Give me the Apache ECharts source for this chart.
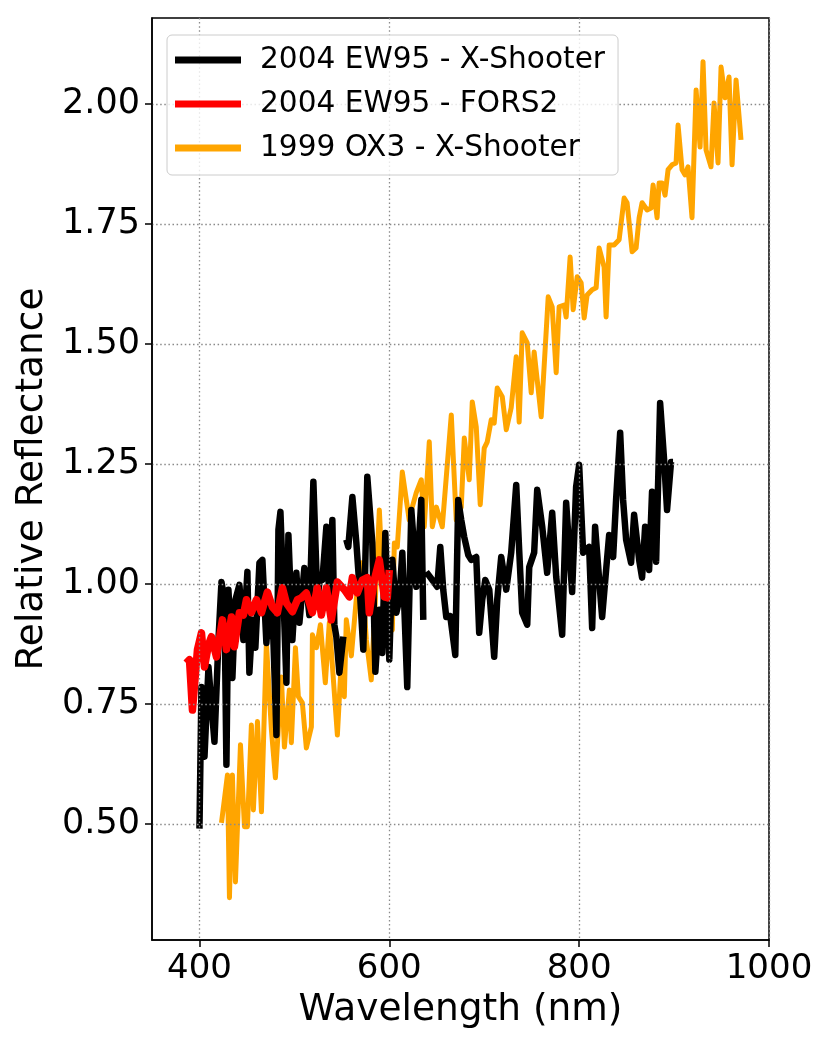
<!DOCTYPE html>
<html>
<head>
<meta charset="utf-8">
<script src="https://cdn.jsdelivr.net/npm/echarts@6/dist/echarts.min.js"></script>
<style>
html,body{margin:0;padding:0;background:#fff;}
#c{width:830px;height:1046px;}
</style>
</head>
<body>
<div id="c"></div>
<script>
// ---- data ----
var seriesNames = ['2004 EW95 - X-Shooter', '2004 EW95 - FORS2', '1999 OX3 - X-Shooter'];

var xsWave = [400.0,402.1,405.3,409.5,412.6,415.8,420.0,423.2,426.3,428.4,430.5,433.7,434.7,437.9,442.1,446.3,450.5,452.6,455.8,458.9,463.2,466.3,470.5,473.7,477.9,481.1,483.2,485.3,487.4,491.6,493.7,497.9,502.1,505.3,510.5,512.6,515.8,520.0,524.2,527.4,529.5,533.7,536.8,540.0,542.1,544.2,547.4,551.6,553.0,554.7,556.8,561.1,565.3,569.5,572.6,576.8,582.1,585.3,589.5,592.6,595.8,600.0,603.2,607.4,610.5,613.7,618.9,623.2,626.3,628.4,633.7,635.8,637.0,638.9,645.3,650.5,653.7,656.8,660.0,664.2,669.5,672.6,675.8,678.9,683.2,686.3,691.6,694.7,697.9,701.1,705.3,710.5,713.7,717.9,723.2,728.4,733.7,736.8,740.0,745.3,747.4,752.6,755.8,761.1,766.3,771.6,775.8,782.1,786.3,792.6,796.8,800.0,804.2,810.5,813.7,816.8,821.1,824.2,828.4,831.6,835.8,838.9,843.2,846.3,849.5,854.7,857.9,863.2,866.3,869.5,873.7,876.8,881.1,885.3,889.5,892.6,896.8,898.9];
var xsRefl = [0.49,0.785,0.64,0.827,0.748,0.671,0.883,1.004,0.967,0.623,0.988,0.863,0.804,0.967,0.998,0.883,1.025,0.815,0.925,0.867,1.044,1.05,0.877,0.967,0.883,0.685,1.113,1.15,1.035,0.794,1.102,0.883,1.023,0.919,1.033,1.029,0.935,1.213,0.967,1.019,1.008,1.119,0.967,1.133,0.915,0.89,0.815,0.89,null,1.092,1.077,1.181,1.085,0.967,0.863,1.223,1.085,0.817,0.946,0.856,1.106,0.842,1.05,0.94,0.967,1.065,0.785,1.154,1.071,0.994,1.175,0.925,null,1.025,1.008,0.994,1.077,0.988,0.931,0.933,0.852,1.175,1.133,1.098,1.06,1.05,1.056,0.898,0.967,1.008,0.988,0.848,0.967,1.056,0.988,1.065,1.206,1.071,0.94,0.915,1.035,1.065,1.196,1.119,1.023,1.148,1.015,0.894,1.169,0.983,1.202,1.248,1.065,1.077,0.908,1.119,1.008,0.931,1.029,1.102,1.056,1.175,1.315,1.175,1.092,1.044,1.144,1.05,1.013,1.119,1.029,1.192,1.046,1.377,1.258,1.154,1.254,1.254];

var forsWave = [386.0,389.5,392.6,397.9,402.1,405.3,409.5,412.6,417.9,424.2,428.4,433.7,436.8,442.1,446.3,449.5,454.7,460.0,465.3,471.6,476.8,482.1,487.4,491.6,497.9,503.2,507.4,512.6,518.9,524.2,528.4,533.7,538.9,545.3,552.6,557.9,561.1,566.3,571.6,576.8,578.9,584.2,589.5,594.7,597.9,600.0];
var forsRefl = [0.835,0.842,0.737,0.863,0.898,0.827,0.873,0.89,0.848,0.925,0.863,0.931,0.869,0.94,0.935,0.967,0.94,0.967,0.94,0.983,0.952,0.94,0.992,0.96,0.942,0.967,0.971,0.981,0.94,0.992,0.935,0.992,0.925,1.004,0.988,0.973,1.013,0.981,1.008,1.013,0.94,1.008,1.05,0.973,0.971,1.029];

var oxWave = [423.2,429.5,431.6,434.7,437.9,443.2,447.4,450.5,454.7,456.8,461.1,465.3,470.5,475.8,480.0,486.3,489.5,494.7,496.8,501.1,504.2,508.4,512.6,517.9,519.0,523.2,527.4,532.6,536.8,545.3,549.5,552.6,554.7,560.0,565.3,570.5,575.8,581.0,585.3,589.5,594.7,597.9,603.2,605.3,608.4,613.7,621.0,624.2,628.4,633.7,636.8,642.1,645.3,649.5,655.8,665.3,670.5,675.8,679.0,684.2,687.4,691.6,695.8,700.0,703.2,707.4,710.5,713.7,719.0,723.2,728.4,733.7,736.8,740.0,745.3,749.5,752.6,760.0,767.4,771.6,775.8,778.9,784.2,786.3,790.5,793.7,797.9,802.1,805.3,808.4,813.7,817.9,821.0,826.3,828.4,831.6,836.8,842.1,847.4,850.5,855.8,860.0,863.2,866.3,871.6,875.8,877.9,882.1,884.2,887.4,890.5,893.7,897.9,902.1,904.2,908.4,911.6,914.7,918.9,923.2,927.4,930.5,933.7,938.9,942.1,946.3,949.5,953.7,957.9,961.1,965.3,970.5];
var oxRefl = [0.502,0.602,0.346,0.602,0.379,0.665,0.494,0.494,0.706,0.529,0.713,0.525,0.877,0.696,0.596,0.806,0.66,0.779,0.669,0.867,0.765,0.752,0.658,0.702,0.894,0.867,0.915,0.794,0.919,0.685,0.842,0.765,0.925,0.85,0.97,1.044,0.883,0.80,0.967,1.154,0.931,0.925,0.904,1.085,1.077,1.233,1.133,1.16,1.19,1.217,1.119,1.296,1.119,1.16,1.119,1.352,1.133,1.16,1.304,1.217,1.379,1.327,1.165,1.283,1.296,1.342,1.335,1.408,1.39,1.321,1.367,1.473,1.337,1.523,1.502,1.398,1.483,1.348,1.598,1.577,1.44,1.577,1.581,1.556,1.681,1.571,1.64,1.627,1.554,1.602,1.613,1.617,1.70,1.66,1.556,1.706,1.706,1.717,1.804,1.794,1.692,1.70,1.763,1.794,1.779,1.783,1.831,1.763,1.835,1.835,1.81,1.863,1.873,1.877,1.956,1.863,1.852,1.869,1.763,2.029,1.91,2.088,1.904,1.869,2.002,1.877,2.077,2.013,2.056,1.873,2.05,1.925];

var xTicks = [400, 600, 800, 1000];
var yTicks = [0.50, 0.75, 1.00, 1.25, 1.50, 1.75, 2.00];

function pairs(w, r) {
  var out = [];
  for (var i = 0; i < w.length; i++) out.push([w[i], r[i] === null ? '-' : r[i]]);
  return out;
}

var FONT = 'DejaVu Sans';
var chart = echarts.init(document.getElementById('c'), null, {renderer: 'canvas'});
var gridLine = {show: true, lineStyle: {color: '#8a8a8a', width: 1.3, type: [1.5, 2.6]}};

chart.setOption({
  animation: false,
  backgroundColor: '#fff',
  grid: {left: 152, top: 18, right: 61, bottom: 106, show: true, borderColor: '#000', borderWidth: 1.5, backgroundColor: 'transparent'},
  legend: {
    orient: 'vertical', left: 167, top: 35, z: 10,
    padding: [10, 13, 12, 8],
    icon: 'rect',
    itemWidth: 66, itemHeight: 7, itemGap: 14,
    backgroundColor: 'rgba(255,255,255,0.8)',
    borderColor: '#cccccc', borderWidth: 1, borderRadius: 5,
    textStyle: {fontFamily: FONT, fontSize: 29.6, color: '#000', lineHeight: 29, padding: [0, 0, 0, 14]},
    data: seriesNames
  },
  xAxis: {
    type: 'value', min: 350, max: 1000, z: 6,
    name: 'Wavelength (nm)', nameLocation: 'middle', nameGap: 51,
    nameTextStyle: {fontFamily: FONT, fontSize: 37.5, color: '#000'},
    axisLine: {show: true, lineStyle: {color: '#000', width: 1.5}},
    axisTick: {show: true, length: 7, inside: false, customValues: xTicks, lineStyle: {color: '#000', width: 1.5}},
    axisLabel: {customValues: xTicks, margin: 12, fontFamily: FONT, fontSize: 34, color: '#000',
      formatter: function (v) { return String(v); }},
    splitLine: gridLine
  },
  yAxis: {
    type: 'value', min: 0.258, max: 2.179, z: 6,
    name: 'Relative Reflectance', nameLocation: 'middle', nameGap: 91,
    nameTextStyle: {fontFamily: FONT, fontSize: 37.5, color: '#000'},
    axisLine: {show: true, lineStyle: {color: '#000', width: 1.5}},
    axisTick: {show: true, length: 7, inside: false, customValues: yTicks, lineStyle: {color: '#000', width: 1.5}},
    axisLabel: {customValues: yTicks, margin: 12, fontFamily: FONT, fontSize: 35, color: '#000',
      formatter: function (v) { return v.toFixed(2); }},
    splitLine: gridLine
  },
  series: [
    {name: seriesNames[0], type: 'line', z: 3, showSymbol: false, symbol: 'none', connectNulls: false,
     lineStyle: {color: '#000000', width: 6.5, join: 'round', cap: 'butt'}, itemStyle: {color: '#000000'}, data: pairs(xsWave, xsRefl)},
    {name: seriesNames[1], type: 'line', z: 4, showSymbol: false, symbol: 'none',
     lineStyle: {color: '#ff0000', width: 7.5, join: 'round'}, itemStyle: {color: '#ff0000'}, data: pairs(forsWave, forsRefl)},
    {name: seriesNames[2], type: 'line', z: 2, showSymbol: false, symbol: 'none',
     lineStyle: {color: '#ffa500', width: 5, join: 'round'}, itemStyle: {color: '#ffa500'}, data: pairs(oxWave, oxRefl)}
  ]
});
</script>
</body>
</html>
